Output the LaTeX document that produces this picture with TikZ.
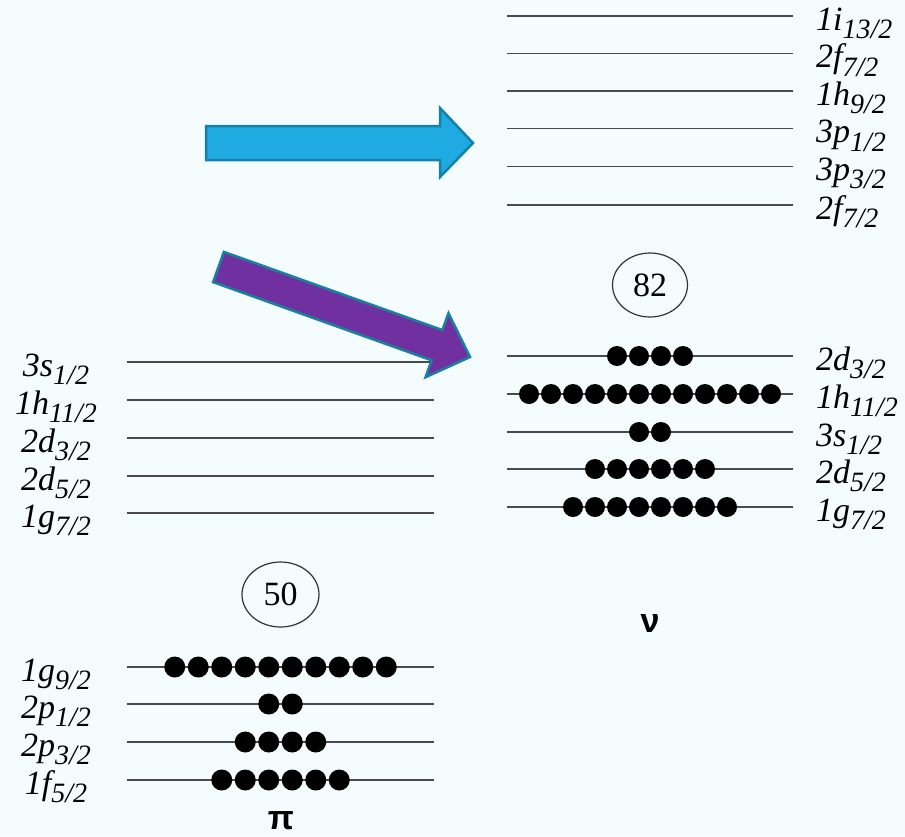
\documentclass[tikz,border=0pt]{standalone}
\usepackage{fontspec}
\setmainfont{Liberation Serif}
\newfontfamily\sansf{Liberation Sans}
\usetikzlibrary{shapes.geometric}
\definecolor{bgc}{HTML}{F4FCFE}
\definecolor{linec}{HTML}{4A4A4A}
\definecolor{bluef}{HTML}{1FABE2}
\definecolor{blueb}{HTML}{1580A8}
\definecolor{purpf}{HTML}{7030A0}
\definecolor{purpb}{HTML}{1A80A0}
\newcommand\lv[2]{#1\raisebox{-8.5pt}{\fontsize{28}{28}\selectfont #2}}
\newcommand\elec[5]{\foreach \k in {1,...,#1}{\fill ({#2+(\k-1)*#4-(#1-1)*#4/2},#3) circle (#5pt);}}
\tikzset{
  lvl/.style={line width=1.3pt, draw=linec},
  lab/.style={inner sep=0pt, font=\fontsize{34}{34}\selectfont\itshape},
  magic/.style={ellipse, draw=black!80, line width=1.2pt, inner sep=0pt, minimum width=75pt, minimum height=64pt, font=\fontsize{34}{34}\selectfont},
  greek/.style={inner sep=0pt, font=\fontsize{34}{34}\selectfont\sansf\bfseries}
}
\begin{document}
\begin{tikzpicture}[x=1pt,y=-1pt]
\fill[bgc] (0,0) rectangle (905,836);
\useasboundingbox (0,0) rectangle (905,836);
% right top levels
\foreach \y/\t/\s in {16/1i/{13/2}, 53.5/2f/{7/2}, 91/1h/{9/2}, 128.7/3p/{1/2}, 166.3/3p/{3/2}, 205/2f/{7/2}}{
  \draw[lvl] (507,\y) -- (793,\y);
  \node[lab, anchor=base west] at (816,\y+14) {\lv{\t}{\s}};
}
% right lower levels
\foreach \y/\t/\s/\n in {356/2d/{3/2}/4, 394/1h/{11/2}/12, 432/3s/{1/2}/2, 469/2d/{5/2}/6, 507/1g/{7/2}/8}{
  \draw[lvl] (507,\y) -- (793,\y);
  \node[lab, anchor=base west] at (816,\y+14) {\lv{\t}{\s}};
  \elec{\n}{650}{\y}{22}{10}
}
\node[magic] (m82) at (650,285) {82};
\node[greek] (nu) at (650,624) {ν};
% left middle levels
\foreach \y/\t/\s in {362/3s/{1/2}, 400/1h/{11/2}, 438/2d/{3/2}, 476/2d/{5/2}, 513/1g/{7/2}}{
  \draw[lvl] (127,\y) -- (434,\y);
  \node[lab, anchor=base] at (56,\y+14) {\lv{\t}{\s}};
}
% left bottom levels
\foreach \y/\t/\s/\n in {667/1g/{9/2}/10, 704/2p/{1/2}/2, 742/2p/{3/2}/4, 780/1f/{5/2}/6}{
  \draw[lvl] (127,\y) -- (434,\y);
  \node[lab, anchor=base] at (56,\y+14) {\lv{\t}{\s}};
  \elec{\n}{280.5}{\y}{23.5}{10.5}
}
\node[magic, minimum width=77pt, minimum height=65pt] (m50) at (280.5,594.5) {50};
\node[greek] (pi) at (281,821) {π};
% arrows
\draw[fill=bluef, draw=blueb, line width=2.5pt, line join=miter]
  (206,126) -- (440,126) -- (440,108) -- (473,143) -- (440,177) -- (440,160) -- (206,160) -- cycle;
\draw[fill=purpf, draw=purpb, line width=2.5pt, line join=miter]
  (223.9,251.9) -- (442.4,330.1) -- (448.5,313.2) -- (470,357) -- (425.6,377.2) -- (431.6,360.3) -- (213.1,282.1) -- cycle;
\end{tikzpicture}
\end{document}
